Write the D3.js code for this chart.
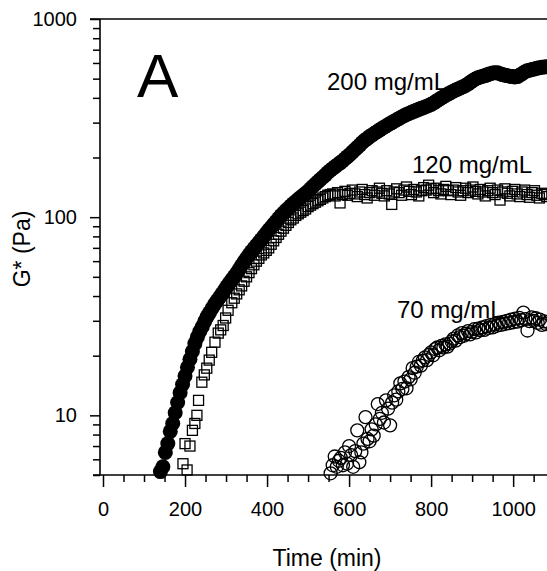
<!DOCTYPE html>
<style>
body { margin: 0; background: #fff; }
text { font-family: "Liberation Sans", Arial, Helvetica, sans-serif; fill: #000; }
.axis path { display: none; }
.axis line { stroke: #000; stroke-width: 1.5; }
.axis text { font-size: 20px; }
.frame { stroke: #000; stroke-width: 1.6; }
.c200 { fill: #000; }
.c120 { fill: none; stroke: #000; stroke-width: 1.3; }
.c70 { fill: none; stroke: #000; stroke-width: 1.3; }
</style>
<svg id="thevis" width="547" height="571"></svg>
<script src="https://cdn.jsdelivr.net/npm/d3@7"></script>
<script>
// G* (Pa) against time (min) for three concentrations

// 200 mg/mL : sampled every 6 min from t = 140
var t200Start = 140, t200Step = 6;
var g200 = [5.2,5.5,6.5,7.2,8.3,9.1,10.3,11.6,13,14.3,15.8,17.5,19.2,21,23,24.8,26.5,28,29.8,31.5,
  33,34.7,36.3,37.8,39.3,41,42.8,44.6,46.5,48.3,50.2,52.2,54.5,57,59.5,62,64.5,67,69.5,72,
  74.5,77,80,83,86,89,92,95,98.5,102,105,108,111,114,117,120,123,126,129,132,
  135,139,143,147,151,155,159,163,168,172,176,180,184,188,192,197,202,207,213,219,
  225,231,238,244,249,255,260,265,270,275,280,285,290,295,300,305,310,315,320,325,
  330,334,338,342,346,350,354,358,362,366,371,377,384,391,398,405,412,419,426,432,
  438,444,450,455,462,470,480,490,498,505,510,514,518,524,530,534,536,535,530,524,
  520,518,514,512,510,512,520,530,540,548,552,556,560,565,568,571,573,575];

var t120Rise = [195,200,205,212,218,224,229,233,241,247,253,259,265,273,281,287,293,299,305,314,
  320,326,332,338,344,350,356,362,368,374,380,386,392,398,404,410,416,422,428,434,
  440,446,452,458,464,470,476,482,488,494,500,506,512,518,524,530,536,542,548,554];
var g120Rise = [5.7,7.2,5.3,7.0,8.4,9.1,10.0,11.9,14.7,16.0,17.3,19.0,20.8,23.4,26.0,27.0,28.4,31.0,33.9,37.0,
  39,41,43,45,47.5,50,52.5,55,57.5,60,62,64.5,66,68,70,73,76,79,82,85,
  88,91,94,97,99,102,104,106,108,110,113,115,117,119,121,123,125,127,129,130];
var t120PlateauStart = 560, t120Step = 6;
var g120Plateau = [131,128,133,118,130,135,129,132,137,131,127,134,138,130,125,133,136,129,134,140,
  132,128,136,131,116,134,139,133,129,137,142,135,130,138,134,128,136,141,137,145,
  139,133,140,136,131,138,143,136,130,137,141,134,129,136,140,133,137,142,135,131,
  138,134,128,136,140,133,130,137,122,134,139,132,128,135,138,131,127,134,137,130,
  126,133,136,129,125,132,130,127];

// 70 mg/mL : sampled every 5 min from t = 555
var t70Start = 555, t70Step = 5;
var g70 = [5.1,5.6,6.2,5.5,5.9,6.1,5.6,6.5,5.7,7.0,6.3,5.5,6.6,8.4,5.8,6.5,7.2,9.8,7.6,7.4,
  8.5,7.9,9.0,11.4,9.6,10.3,9.2,11.9,10.8,8.9,11.6,12.6,12.0,13.2,14.5,13.6,14.8,13.7,15.6,15.2,
  17.3,16.4,17.6,18.6,17.8,18.9,19.6,19.0,20.2,20.8,20.1,21.6,22.0,21.3,22.4,22.0,22.8,22.2,23.0,23.6,
  24.4,23.8,25.3,24.8,26.0,25.2,25.8,26.6,25.6,26.4,27.2,26.2,27.4,26.9,27.8,27.0,28.2,27.6,28.6,27.8,
  28.8,28.3,29.4,28.6,29.6,28.9,30.0,29.2,30.4,29.5,30.8,29.7,31.0,30.2,33.0,30.6,26.8,29.9,31.2,30.0,
  30.9,29.3,30.4,28.6,29.8,28.9,29.6];

var xMajor = [0, 200, 400, 600, 800, 1000];
var xMinor = [50,100,150,250,300,350,450,500,550,650,700,750,850,900,950,1050];
var yMajor = [10, 100, 1000];
var yMinor = [5,6,7,8,9,20,30,40,50,60,70,80,90,200,300,400,500,600,700,800,900];

var series200 = g200.map(function(g, i) { return {t: t200Start + i * t200Step, g: g}; });
var series120 = t120Rise.map(function(t, i) { return {t: t, g: g120Rise[i]}; })
  .concat(g120Plateau.map(function(g, i) { return {t: t120PlateauStart + i * t120Step, g: g}; }));
var series70 = g70.map(function(g, i) { return {t: t70Start + i * t70Step, g: g}; });

var svg = d3.select("svg");
var x = d3.scaleLinear().domain([0, 1085]).range([103, 548]);
var y = d3.scaleLog().domain([5, 1000]).range([475, 19]);

// axes
svg.append("g").attr("class", "axis")
    .attr("transform", "translate(0,475)")
    .call(d3.axisBottom(x).tickValues(xMinor).tickSize(7).tickFormat(""));
svg.append("g").attr("class", "axis")
    .attr("transform", "translate(0,475)")
    .call(d3.axisBottom(x).tickValues(xMajor).tickSize(12).tickPadding(15).tickFormat(d3.format("d")));
svg.append("g").attr("class", "axis")
    .attr("transform", "translate(100,0)")
    .call(d3.axisLeft(y).tickValues(yMinor).tickSize(7).tickFormat(""));
svg.append("g").attr("class", "axis")
    .attr("transform", "translate(100,0)")
    .call(d3.axisLeft(y).tickValues(yMajor).tickSize(10).tickPadding(13).tickFormat(d3.format("d")));

svg.append("line").attr("class", "frame").attr("x1", 93).attr("x2", 547).attr("y1", 475).attr("y2", 475);
svg.append("line").attr("class", "frame").attr("x1", 100).attr("x2", 100).attr("y1", 19).attr("y2", 475);
svg.append("line").attr("class", "frame").attr("x1", 90).attr("x2", 547).attr("y1", 19).attr("y2", 19);

// data
svg.append("g").selectAll("circle")
    .data(series200)
  .enter().append("circle")
    .attr("class", "c200")
    .attr("cx", function(d) { return x(d.t); })
    .attr("cy", function(d) { return y(d.g); })
    .attr("r", 7.5);

svg.append("g").selectAll("rect")
    .data(series120)
  .enter().append("rect")
    .attr("class", "c120")
    .attr("x", function(d) { return x(d.t) - 5; })
    .attr("y", function(d) { return y(d.g) - 5; })
    .attr("width", 10)
    .attr("height", 10);

svg.append("g").selectAll("circle")
    .data(series70)
  .enter().append("circle")
    .attr("class", "c70")
    .attr("cx", function(d) { return x(d.t); })
    .attr("cy", function(d) { return y(d.g); })
    .attr("r", 6.5);

// labels
svg.append("text").attr("x", 327).attr("y", 90).style("font-size", "24px").text("200 mg/mL");
svg.append("text").attr("x", 412).attr("y", 173).style("font-size", "24px").text("120 mg/mL");
svg.append("text").attr("x", 397).attr("y", 318).style("font-size", "24px").text("70 mg/mL");
svg.append("text").attr("x", 137).attr("y", 97).style("font-size", "62px").text("A");

svg.append("text")
    .attr("x", 327).attr("y", 566)
    .attr("text-anchor", "middle")
    .style("font-size", "23px")
    .text("Time (min)");
svg.append("text")
    .attr("transform", "translate(30,249) rotate(-90)")
    .attr("text-anchor", "middle")
    .style("font-size", "23px")
    .text("G* (Pa)");
</script>
